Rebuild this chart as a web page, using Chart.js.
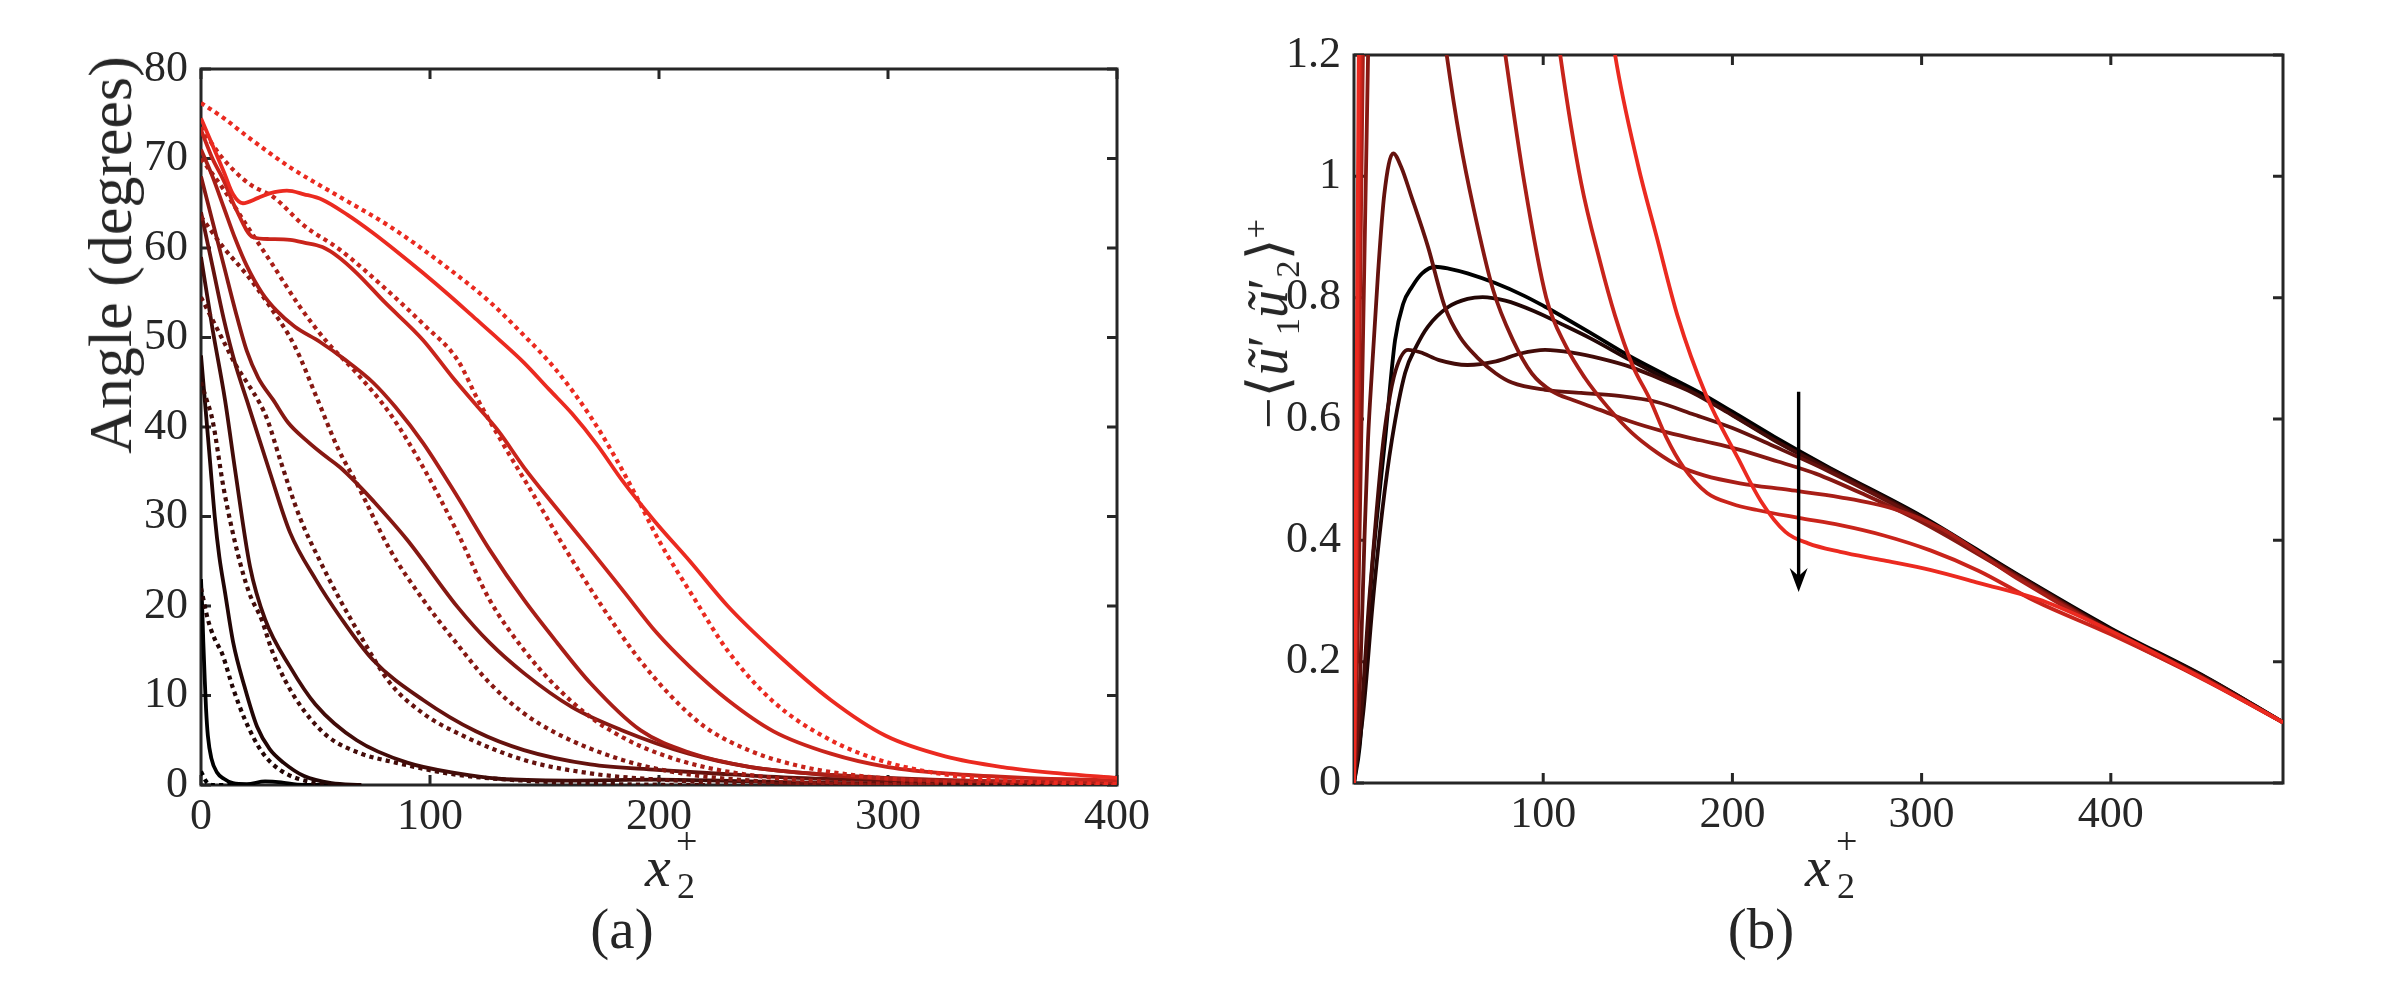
<!doctype html>
<html lang="en">
<head>
<meta charset="utf-8">
<title>Angle and Reynolds stress profiles</title>
<script src="https://cdn.jsdelivr.net/npm/chart.js@4.4.1/dist/chart.umd.min.js"></script>
<style>
  body { margin: 0; background: #fff; }
  #wrap { position: relative; width: 2403px; height: 988px; overflow: hidden;
          font-family: "Liberation Serif", "Times New Roman", "DejaVu Serif", serif; color: #262626; }
  canvas { position: absolute; top: 0; }
  .lbl { position: absolute; white-space: nowrap; line-height: 1; }
  .rot { transform: translate(-50%, -50%) rotate(-90deg); }
  .mi { font-style: italic; }
  .xl { position: absolute; width: 80px; height: 80px; }
  .xl .x { position: absolute; left: 0; top: 0; font-size: 58px; font-style: italic; line-height: 1; }
  .xl .sp { position: absolute; left: 31px; top: -16px; font-size: 38px; line-height: 1; }
  .xl .sb { position: absolute; left: 32px; top: 30px; font-size: 36px; line-height: 1; }
  .cap { position: absolute; font-size: 57px; line-height: 1; transform: translate(-50%, -50%); }
  sub, sup { font-size: 0.62em; line-height: 0; }
</style>
</head>
<body>
<div id="wrap">
  <canvas id="angle" width="1200" height="988" style="left:0"></canvas>
  <canvas id="stress" width="1203" height="988" style="left:1200px"></canvas>

  <div class="lbl rot" style="left:110px; top:255px; font-size:62px;">Angle (degrees)</div>
  <div class="xl" style="left:645px; top:838px;"><span class="x">x</span><span class="sp">+</span><span class="sb">2</span></div>
  <div class="cap" style="left:622px; top:928px;">(a)</div>

  <div class="lbl rot" style="left:1268px; top:324px; font-size:56px;">&minus;&#10216;<span class="mi">&#361;</span>&prime;<sub>1</sub><span class="mi">&#361;</span>&prime;<sub>2</sub>&#10217;<sup>+</sup></div>
  <div class="xl" style="left:1805px; top:838px;"><span class="x">x</span><span class="sp">+</span><span class="sb">2</span></div>
  <div class="cap" style="left:1761px; top:928px;">(b)</div>
</div>

<script>
// ---- panel (a): angle, solid lines ----
var s1 = [[0,23],[0.5,20],[1,16],[1.6,12],[2.2,8.5],[3,5.5],[4.5,3],[7,1.4],[10,0.7],[14,0.2],[20,0.1],[28,0.4],[35,0.3],[42,0.05],[60,0]]
var s2 = [[0,48],[2,42],[4,36],[6,30],[8,25.5],[10.5,21.5],[14,16],[19,11],[24.5,6.5],[30,4],[36,2.5],[45,1],[57,0.2],[70,0]]
var s3 = [[0,59],[5,51],[10.5,43],[15,35],[21.4,24.4],[28,18.5],[38.9,13.2],[50,9],[68,5],[90,2.5],[112,1.3],[130,0.7],[160,0.5],[200,0.6],[240,0.4],[280,0.2],[320,0.1],[400,0]]
var s4 = [[0,64],[5,58],[10,52],[15,47],[20,43],[30,35],[38.9,28.2],[50,23],[60.7,18.8],[75,14],[97,9.5],[120,6],[141,3.9],[170,2.3],[199,1.7],[230,1.2],[260,0.8],[300,0.5],[350,0.3],[400,0.2]]
var s5 = [[0,68],[5,63],[10,58],[15,53],[20,48.5],[25,45.5],[31.6,43],[38,40.5],[46,38.5],[53,37],[60.7,35.5],[68,33.7],[75,31.8],[90,27.4],[112,19.9],[126,15.9],[141,12.5],[162,8.7],[184,6.1],[213,3.5],[240,2],[270,1.2],[300,0.8],[350,0.4],[400,0.3]]
var s6 = [[0,71],[5,68],[10,64.5],[15,61],[20,58],[26.6,55],[33,53],[41,51.2],[52,49.5],[63,47.5],[75,45],[85,42.2],[97,38.2],[112,32.2],[126,26.3],[141,20.7],[155.5,15.9],[170,11.4],[192,6.1],[213.5,3.6],[240,2],[270,1.2],[300,0.7],[350,0.4],[400,0.3]]
var s7 = [[0,73.2],[5,70],[10,67.5],[15,64.5],[22.8,61.2],[30,61],[38.9,60.9],[45,60.6],[53,60.1],[60,59],[68,57.2],[80,54],[97,49.7],[110,45.5],[120,42.5],[130,39.5],[141,35.5],[155,31],[170,26.3],[185,21.5],[199,17],[213.5,13.2],[230,9.5],[250,6],[275,3.5],[300,2],[330,1.2],[360,0.8],[400,0.5]]
var s8 = [[0,74.5],[5,71.5],[10,68.5],[14,66],[18.3,65],[25,65.6],[30,66.1],[37.5,66.4],[45,66],[53,65.4],[64,63.7],[75,61.7],[86,59.5],[97,57.2],[108,54.8],[119,52.3],[130,49.8],[141,47.2],[152,44.2],[162,41.5],[173,38],[184,34],[198,29.5],[213.5,25],[230,20],[250,15],[275,9.5],[299,5.5],[325,3.2],[350,2],[375,1.3],[400,0.8]]

// ---- panel (a): angle, dotted lines ----
var d1 = [[0,1.5],[1,1],[2,0.5],[3,0.2],[5,0],[20,0]]
var d2 = [[0,22],[3,18.5],[6,16.3],[9.2,14.7],[14,10.8],[19.2,7.3],[26.6,3.7],[35,1.6],[48.5,0.3],[60,0]]
var d3 = [[0,45],[2.5,43],[5,40.8],[10,33],[16,25.9],[21,21.5],[26.6,18.4],[31,15],[36.7,11.7],[45,8.3],[55.5,5.4],[70,3.5],[85,2.5],[110,1.2],[140,0.5],[180,0.1],[220,0]]
var d4 = [[0,54.5],[5,52],[10,49.5],[15,47],[20,45],[26,42.5],[29,40.8],[35,36],[43,30],[52,25],[60.7,20.7],[70,16.5],[82.5,11.4],[97,8],[112,5.8],[141,2.8],[170,1.3],[200,0.6],[250,0.1],[300,0]]
var d5 = [[0,63.5],[10,60],[20,57],[30,53.5],[41,49],[51,43],[60,37.5],[68,33.7],[82.5,26.3],[97,20.7],[112,15.7],[126,11.4],[140,8.2],[155,5.8],[184,2.8],[210,1.3],[240,0.5],[280,0.1],[320,0]]
var d6 = [[0,70],[10,66.5],[20,62.5],[31.6,58],[43,53.5],[55,49.5],[68,46],[82.5,41.5],[97,35.5],[112,28.2],[126,20.7],[141,15.1],[155,11],[170,7.6],[185,5.2],[199,3.6],[220,2],[250,0.8],[290,0.2],[330,0]]
var d7 = [[0,73.5],[8,70.5],[15,68.5],[22,67],[31.6,65.7],[45,62.5],[60.7,59.8],[82.5,55],[97,51.5],[112,47.5],[121,43],[131,38.5],[145,32.5],[160,26],[175,20],[190,14.5],[205,10],[220,6.5],[240,3.8],[260,2.2],[285,1.1],[320,0.4],[360,0.1],[400,0]]
var d8 = [[0,76.2],[10,74.5],[20,72.5],[39,69],[60,65.8],[82.5,62.4],[105,58.3],[126,54],[140,50.5],[155,46.4],[170,41.2],[180,37],[190,32.3],[200,27.3],[215,21],[230,15],[250,9.3],[275,5],[300,2.5],[330,1],[360,0.4],[400,0.1]]

var angleTicksX = [0, 100, 200, 300, 400]
var angleTicksY = [0, 10, 20, 30, 40, 50, 60, 70, 80]

// ---- panel (b): -<u1'u2'>+ ----
var r1 = [[0,0],[3,0.06],[5.8,0.18],[9.5,0.35],[12.7,0.455],[16.4,0.565],[21.7,0.73],[26,0.79],[30.7,0.818],[36,0.84],[42.9,0.851],[50,0.848],[60,0.84],[74.6,0.824],[90,0.803],[101,0.785],[109,0.771],[125,0.742],[146,0.703],[165,0.672],[183,0.643],[200,0.612],[222,0.571],[250,0.522],[300,0.44],[350,0.345],[400,0.255],[450,0.175],[491,0.1]]
var r2 = [[0,0],[5,0.12],[10,0.3],[15,0.45],[20,0.565],[27,0.676],[33,0.72],[39,0.752],[50,0.785],[60,0.798],[68,0.801],[80,0.795],[95,0.778],[110,0.756],[125,0.733],[146,0.697],[165,0.666],[183,0.638],[200,0.607],[222,0.566],[250,0.52],[300,0.438],[350,0.344],[400,0.253],[450,0.174],[491,0.1]]
var r3 = [[0,0],[4,0.12],[8,0.3],[12,0.45],[15,0.55],[18,0.62],[22,0.68],[28.6,0.714],[35,0.71],[45,0.697],[60,0.689],[75,0.695],[88,0.708],[101,0.714],[116,0.709],[130,0.7],[146,0.686],[162,0.666],[178,0.645],[200,0.606],[222,0.565],[250,0.518],[300,0.437],[350,0.343],[400,0.252],[450,0.173],[491,0.1]]
var r4 = [[0,0],[3,0.15],[5.5,0.4],[7.4,0.565],[9.5,0.68],[12.7,0.84],[16,0.97],[20.7,1.038],[25,1.015],[30,0.97],[39,0.885],[48,0.785],[56,0.735],[65.6,0.7],[75,0.675],[83.4,0.66],[101,0.648],[120,0.643],[140,0.638],[160,0.628],[180,0.607],[200,0.585],[222,0.555],[250,0.515],[300,0.434],[350,0.342],[400,0.25],[450,0.172],[491,0.1]]
var r5 = [[0,0],[2,0.25],[4,0.6],[6,0.95],[8,1.3],[11,1.9],[15,2.6],[25,2.1],[35,1.6],[42,1.37],[49,1.2],[56,1.06],[63,0.95],[73.5,0.813],[84,0.73],[94,0.675],[105,0.645],[116,0.631],[130,0.615],[145,0.597],[163,0.58],[183,0.565],[203,0.55],[224,0.53],[244,0.51],[270,0.475],[300,0.43],[350,0.34],[400,0.249],[450,0.171],[491,0.1]]
var r6 = [[0,0],[1.5,0.35],[3,0.75],[4.5,1.15],[6,1.5],[10,2.4],[20,3.2],[40,2.6],[60,1.75],[70,1.43],[80,1.2],[90,0.99],[101.6,0.8],[112,0.72],[122,0.668],[134,0.62],[146.6,0.578],[160,0.545],[172,0.522],[185,0.507],[204,0.494],[230,0.483],[257,0.471],[285,0.452],[310,0.42],[350,0.338],[400,0.248],[450,0.17],[491,0.1]]
var r7 = [[0,0],[1,0.3],[2,0.65],[3,1],[4,1.35],[6,2],[12,3.2],[30,3.6],[60,2.8],[80,2],[95,1.55],[109,1.2],[120,0.99],[130,0.86],[138,0.77],[147,0.69],[156.6,0.631],[165,0.57],[174,0.521],[186.6,0.478],[200,0.46],[213,0.45],[235,0.437],[257,0.425],[280,0.408],[305,0.383],[330,0.35],[360,0.3],[400,0.245],[450,0.169],[491,0.1]]
var r8 = [[0,0],[0.8,0.35],[1.6,0.75],[2.4,1.15],[4,1.8],[10,3.4],[40,4],[80,3],[110,1.9],[125,1.5],[138,1.2],[150,1.02],[160,0.9],[171,0.77],[186,0.64],[203,0.535],[215,0.465],[228,0.414],[240,0.395],[257,0.381],[280,0.367],[305,0.351],[330,0.33],[366,0.298],[407,0.24],[450,0.17],[491,0.1]]

var stressTicksX = [100, 200, 300, 400]
var stressTicksY = [0, 0.2, 0.4, 0.6, 0.8, 1, 1.2]
var arrowX = 235, arrowFrom = 0.645, arrowTo = 0.315

// ---- styling ----
var ink = '#262626'
var tickFont = {family: '"Liberation Serif", "Times New Roman", serif', size: 44}

function shade(i, n) {
    var t = i / (n - 1)
    return 'rgb(' + Math.round(235 * t) + ',' + Math.round(42 * t) + ',' + Math.round(32 * t) + ')'
}
function pts(a) {
    return a.map(function (p) { return {x: p[0], y: p[1]} })
}
function line(data, color, dotted) {
    return {
        data: pts(data),
        borderColor: color,
        borderWidth: dotted ? 4.2 : 3.8,
        borderDash: dotted ? [4.2, 4.2] : [],
        pointRadius: 0,
        cubicInterpolationMode: 'monotone',
        fill: false
    }
}

// inward ticks on all four sides plus the box, MATLAB style
var frame = {
    id: 'frame',
    beforeDatasetsDraw: function (chart) {
        var ctx = chart.ctx, a = chart.chartArea
        var x = chart.scales.x, y = chart.scales.y
        var len = 10
        ctx.save()
        ctx.strokeStyle = ink
        ctx.lineWidth = 3
        ctx.strokeRect(a.left, a.top, a.right - a.left, a.bottom - a.top)
        ctx.beginPath()
        x.ticks.forEach(function (t) {
            var p = x.getPixelForValue(t.value)
            ctx.moveTo(p, a.bottom); ctx.lineTo(p, a.bottom - len)
            ctx.moveTo(p, a.top); ctx.lineTo(p, a.top + len)
        })
        y.ticks.forEach(function (t) {
            var p = y.getPixelForValue(t.value)
            ctx.moveTo(a.left, p); ctx.lineTo(a.left + len, p)
            ctx.moveTo(a.right, p); ctx.lineTo(a.right - len, p)
        })
        ctx.stroke()
        ctx.restore()
    }
}

var arrow = {
    id: 'arrow',
    afterDatasetsDraw: function (chart) {
        var ctx = chart.ctx
        var px = chart.scales.x.getPixelForValue(arrowX)
        var y0 = chart.scales.y.getPixelForValue(arrowFrom)
        var y1 = chart.scales.y.getPixelForValue(arrowTo)
        ctx.save()
        ctx.strokeStyle = '#000'
        ctx.fillStyle = '#000'
        ctx.lineWidth = 3.4
        ctx.beginPath()
        ctx.moveTo(px, y0); ctx.lineTo(px, y1 - 6)
        ctx.stroke()
        ctx.beginPath()
        ctx.moveTo(px, y1)
        ctx.lineTo(px - 9, y1 - 24)
        ctx.lineTo(px, y1 - 16)
        ctx.lineTo(px + 9, y1 - 24)
        ctx.closePath()
        ctx.fill()
        ctx.restore()
    }
}

function axes(xmin, xmax, xt, ymin, ymax, yt, yWidth) {
    return {
        x: {
            type: 'linear', min: xmin, max: xmax,
            grid: {display: false, drawTicks: false}, border: {display: false},
            ticks: {font: tickFont, color: ink, padding: 6, maxRotation: 0, autoSkip: false},
            afterBuildTicks: function (s) { s.ticks = xt.map(function (v) { return {value: v} }) },
            afterFit: function (s) { s.height = 60 }
        },
        y: {
            type: 'linear', min: ymin, max: ymax,
            grid: {display: false, drawTicks: false}, border: {display: false},
            ticks: {font: tickFont, color: ink, padding: 13, autoSkip: false,
                    callback: function (v) { return String(Math.round(v * 10) / 10) }},
            afterBuildTicks: function (s) { s.ticks = yt.map(function (v) { return {value: v} }) },
            afterFit: function (s) { s.width = yWidth }
        }
    }
}

var common = {
    responsive: false,
    animation: false,
    plugins: {legend: {display: false}, tooltip: {enabled: false}}
}

// panel (a): reddest first so it is drawn on top
var solids = [s1, s2, s3, s4, s5, s6, s7, s8]
var dots = [d1, d2, d3, d4, d5, d6, d7, d8]
var angleSets = []
for (var i = 7; i >= 0; i--) {
    angleSets.push(line(solids[i], shade(i, 8), false))
    angleSets.push(line(dots[i], shade(i, 8), true))
}

new Chart(document.getElementById('angle'), {
    type: 'line',
    data: {datasets: angleSets},
    options: Object.assign({}, common, {
        layout: {padding: {left: 0, top: 69, right: 83, bottom: 143}},
        scales: axes(0, 400, angleTicksX, 0, 80, angleTicksY, 201)
    }),
    plugins: [frame]
})

// panel (b)
var stress = [r1, r2, r3, r4, r5, r6, r7, r8]
var stressSets = []
for (var j = 7; j >= 0; j--) {
    stressSets.push(line(stress[j], shade(j, 8), false))
}

new Chart(document.getElementById('stress'), {
    type: 'line',
    data: {datasets: stressSets},
    options: Object.assign({}, common, {
        layout: {padding: {left: 0, top: 55, right: 120, bottom: 145}},
        scales: axes(0, 491, stressTicksX, 0, 1.2, stressTicksY, 154)
    }),
    plugins: [frame, arrow]
})
</script>
</body>
</html>
